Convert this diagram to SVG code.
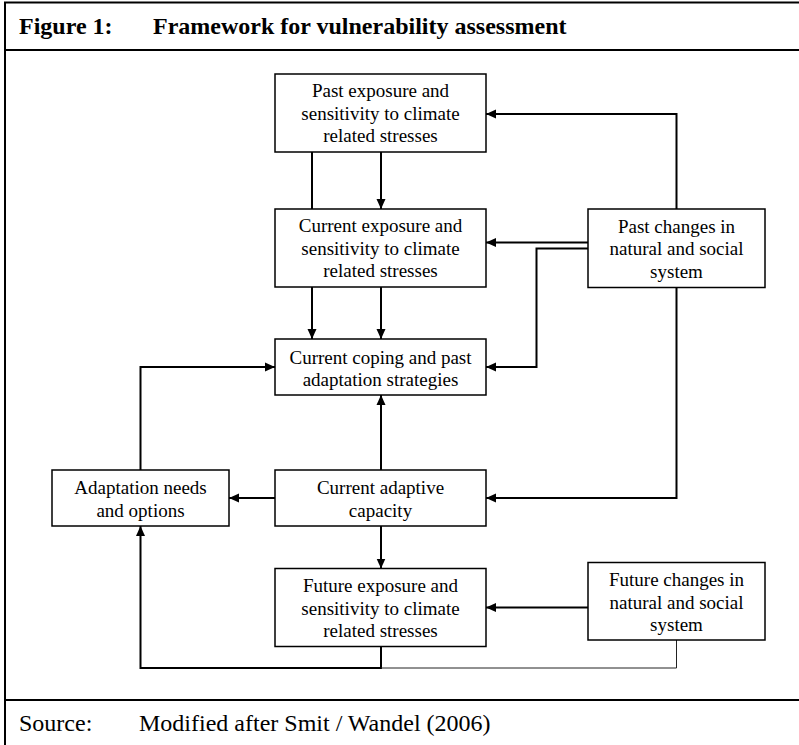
<svg xmlns="http://www.w3.org/2000/svg" width="799" height="745" viewBox="0 0 799 745">
  <style>
    .box { fill: #ffffff; stroke: #000000; stroke-width: 1.5; }
    .lbl { font-family: "Liberation Serif", "Times New Roman", serif; font-size: 19px; fill: #000000; text-anchor: middle; }
    .cap { font-family: "Liberation Serif", "Times New Roman", serif; font-size: 24px; fill: #000000; }
    .conn { fill: none; stroke: #000000; stroke-width: 2; }
    .thin { fill: none; stroke: #222222; stroke-width: 1; }
    .frame { fill: none; stroke: #000000; stroke-width: 2; }
  </style>
  <defs>
    <marker id="arrow" markerUnits="userSpaceOnUse" markerWidth="10" markerHeight="10" refX="10" refY="5" orient="auto">
      <path d="M0,0.5 L10,5 L0,9.5 z" fill="#000000"/>
    </marker>
  </defs>

  <rect width="799" height="745" fill="#ffffff"/>

  <g id="frame">
    <path class="frame" d="M803,2.5 H5 V749"/>
    <line class="frame" x1="5" y1="50" x2="803" y2="50"/>
    <line class="frame" x1="5" y1="700" x2="803" y2="700"/>
    <text class="cap" x="19" y="34" font-weight="bold">Figure 1:</text>
    <text class="cap" x="153" y="34" font-weight="bold">Framework for vulnerability assessment</text>
    <text class="cap" x="19" y="731">Source:</text>
    <text class="cap" x="139" y="731">Modified after Smit / Wandel (2006)</text>
  </g>

  <g id="connectors">
    <path class="conn" d="M312,152 V209"/>
    <path class="conn" d="M381,152 V209" marker-end="url(#arrow)"/>
    <path class="conn" d="M676.5,209 V114 H486" marker-end="url(#arrow)"/>
    <path class="conn" d="M588,242.5 H486" marker-end="url(#arrow)"/>
    <path class="conn" d="M588,248.5 H536.5 V367 H486" marker-end="url(#arrow)"/>
    <path class="conn" d="M312,287 V339" marker-end="url(#arrow)"/>
    <path class="conn" d="M381,287 V339" marker-end="url(#arrow)"/>
    <path class="conn" d="M676.5,287.5 V498 H486" marker-end="url(#arrow)"/>
    <path class="conn" d="M381,470 V395" marker-end="url(#arrow)"/>
    <path class="conn" d="M275,498 H229" marker-end="url(#arrow)"/>
    <path class="conn" d="M140.5,470 V367 H275" marker-end="url(#arrow)"/>
    <path class="conn" d="M381,526 V568.5" marker-end="url(#arrow)"/>
    <path class="conn" d="M588,607.5 H486" marker-end="url(#arrow)"/>
    <path class="conn" d="M381,646.5 V668 H140.5 V526" marker-end="url(#arrow)"/>
    <path class="thin" d="M381,668 H676.5 V640"/>
  </g>

  <g id="past_exposure">
    <rect class="box" x="275" y="74" width="211" height="78"/>
    <text class="lbl" x="380.5" y="97">Past exposure and</text>
    <text class="lbl" x="380.5" y="119.5">sensitivity to climate</text>
    <text class="lbl" x="380.5" y="142">related stresses</text>
  </g>

  <g id="current_exposure">
    <rect class="box" x="275" y="209" width="211" height="78"/>
    <text class="lbl" x="380.5" y="232">Current exposure and</text>
    <text class="lbl" x="380.5" y="254.5">sensitivity to climate</text>
    <text class="lbl" x="380.5" y="277">related stresses</text>
  </g>

  <g id="past_changes">
    <rect class="box" x="588" y="209" width="177" height="78.5"/>
    <text class="lbl" x="676.5" y="232.5">Past changes in</text>
    <text class="lbl" x="676.5" y="255">natural and social</text>
    <text class="lbl" x="676.5" y="277.5">system</text>
  </g>

  <g id="current_coping">
    <rect class="box" x="275" y="339" width="211" height="56"/>
    <text class="lbl" x="380.5" y="363.5">Current coping and past</text>
    <text class="lbl" x="380.5" y="386">adaptation strategies</text>
  </g>

  <g id="adaptation_needs">
    <rect class="box" x="52" y="470" width="177" height="56"/>
    <text class="lbl" x="140.5" y="494">Adaptation needs</text>
    <text class="lbl" x="140.5" y="516.5">and options</text>
  </g>

  <g id="current_adaptive">
    <rect class="box" x="275" y="470" width="211" height="56"/>
    <text class="lbl" x="380.5" y="494">Current adaptive</text>
    <text class="lbl" x="380.5" y="516.5">capacity</text>
  </g>

  <g id="future_exposure">
    <rect class="box" x="275" y="568.5" width="211" height="78"/>
    <text class="lbl" x="380.5" y="592">Future exposure and</text>
    <text class="lbl" x="380.5" y="614.5">sensitivity to climate</text>
    <text class="lbl" x="380.5" y="637">related stresses</text>
  </g>

  <g id="future_changes">
    <rect class="box" x="588" y="562.5" width="177" height="77.5"/>
    <text class="lbl" x="676.5" y="586">Future changes in</text>
    <text class="lbl" x="676.5" y="608.5">natural and social</text>
    <text class="lbl" x="676.5" y="631">system</text>
  </g>
</svg>
